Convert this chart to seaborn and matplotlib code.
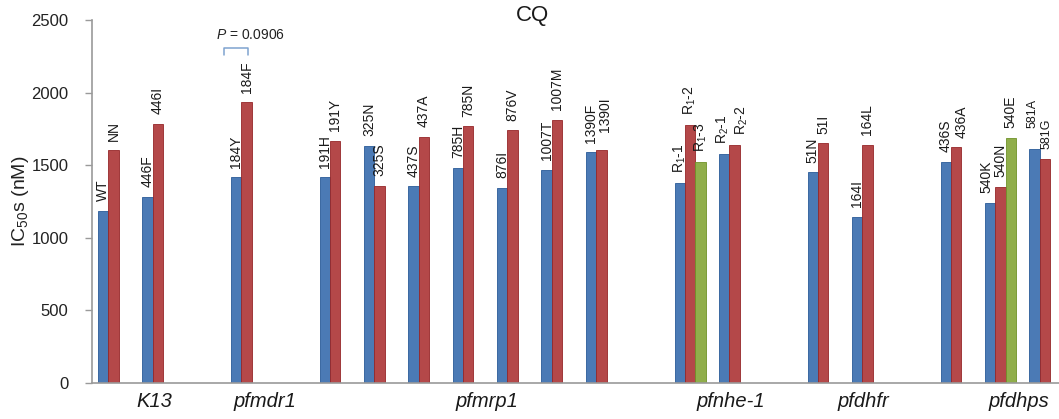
import numpy as np
import pandas as pd
import matplotlib
matplotlib.use("Agg")
import matplotlib.pyplot as plt
import seaborn as sns
from matplotlib.transforms import blended_transform_factory

# ---------------- data ----------------
loci = ["WT/NN", "446", "184", "191", "325", "437", "785", "876", "1007", "1390",
        "R1", "R2", "51", "164", "436", "540", "581"]
genes = ["K13", "K13", "pfmdr1", "pfmrp1", "pfmrp1", "pfmrp1", "pfmrp1", "pfmrp1",
         "pfmrp1", "pfmrp1", "pfnhe-1", "pfnhe-1", "pfdhfr", "pfdhfr",
         "pfdhps", "pfdhps", "pfdhps"]
gene_names = ["K13", "pfmdr1", "pfmrp1", "pfnhe-1", "pfdhfr", "pfdhps"]

allele1_values = [1188, 1283, 1416, 1416, 1634, 1354, 1480, 1345, 1469, 1588,
                  1377, 1577, 1450, 1143, 1524, 1243, 1614]
allele2_values = [1602, 1786, 1933, 1669, 1359, 1697, 1768, 1740, 1811, 1607,
                  1777, 1641, 1650, 1639, 1623, 1352, 1543]
allele3_values = [np.nan, np.nan, np.nan, np.nan, np.nan, np.nan, np.nan, np.nan,
                  np.nan, np.nan, 1522, np.nan, np.nan, np.nan, np.nan, 1688, np.nan]

allele1_labels = ["WT", "446F", "184Y", "191H", "325N", "437S", "785H", "876I", "1007T",
                  "1390F", "R$_1$-1", "R$_2$-1", "51N", "164I", "436S", "540K", "581A"]
allele2_labels = ["NN", "446I", "184F", "191Y", "325S", "437A", "785N", "876V", "1007M",
                  "1390I", "R$_1$-2", "R$_2$-2", "51I", "164L", "436A", "540N", "581G"]
allele3_labels = ["", "", "", "", "", "", "", "", "", "", "R$_1$-3", "", "", "", "", "540E", ""]

p_text = "$P$ = 0.0906"
p_locus = "184"
title = "CQ"
ylabel = "IC$_{50}$s (nM)"
yticks = [0, 500, 1000, 1500, 2000, 2500]

# ---------------- build long table ----------------
rows = []
for k, (vals, labs) in enumerate([(allele1_values, allele1_labels),
                                  (allele2_values, allele2_labels),
                                  (allele3_values, allele3_labels)]):
    for loc, v, lab in zip(loci, vals, labs):
        if not np.isnan(v):
            rows.append({"locus": loc, "allele": str(k + 1), "ic50": v, "label": lab})
df = pd.DataFrame(rows)

# category order with a spacer slot between gene groups
order = []
gap_n = 0
for i, loc in enumerate(loci):
    if i > 0 and genes[i] != genes[i - 1]:
        gap_n += 1
        order.append(f"_gap{gap_n}")
    order.append(loc)

# ---------------- style ----------------
sns.set_theme(style="white")
plt.rcParams["font.family"] = ["Liberation Sans", "DejaVu Sans"]
plt.rcParams["mathtext.fontset"] = "custom"
plt.rcParams["mathtext.rm"] = "Liberation Sans"
plt.rcParams["mathtext.it"] = "Liberation Sans:italic"
plt.rcParams["mathtext.bf"] = "Liberation Sans:bold"

colors = ["#3a78c6", "#c63638", "#96bf3a"]
edges = ["#2a5a98", "#962628", "#6f9228"]

# small label nudges (points) / sizes to avoid collisions, as in the reference
nudge = {"R$_2$-2": (5, 0), "436A": (4, 0), "1390I": (3, 6), "581A": (-1.5, 8),
         "581G": (1.5, 0), "540K": (-3, 0), "R$_2$-1": (-1, 0)}
label_size = {"581A": 9, "581G": 9}

fig = plt.figure(figsize=(10.59, 4.19), dpi=100)
ax = fig.add_axes([92 / 1059, 36 / 419, 967 / 1059, 363 / 419])

sns.barplot(data=df, x="locus", y="ic50", hue="allele", order=order,
            hue_order=["1", "2", "3"], palette=colors, width=0.7, errorbar=None,
            legend=False, ax=ax, linewidth=0.6)

step = 0.7 / 3
label_lookup = {(r.locus, int(r.allele)): r.label for r in df.itertuples()}
for p in ax.patches:
    h = p.get_height()
    if not np.isfinite(h) or h <= 0:
        continue
    xc = p.get_x() + p.get_width() / 2
    slot = int(round(xc))
    k = int(round((xc - slot) / step)) + 2
    p.set_edgecolor(edges[k - 1])
    lab = label_lookup.get((order[slot], k), "")
    if lab:
        dx, dy = nudge.get(lab, (0, 0))
        ax.annotate(lab, (xc, h), xytext=(dx, 7 + dy), textcoords="offset points",
                    rotation=90, ha="center", va="bottom",
                    fontsize=label_size.get(lab, 10), color="#1a1a1a")

ax.set_xlim(-0.485, 21.32)
ax.set_ylim(0, 2500)
ax.set_yticks(yticks)
ax.set_yticklabels([str(t) for t in yticks], fontsize=12, color="#222222")
ax.set_xticks([])
ax.set_xlabel("")
ax.set_ylabel(ylabel, fontsize=14, color="#222222")
ax.yaxis.set_label_coords(-0.063, 0.5)
ax.tick_params(axis="y", left=True, length=5, width=1, color="#9a9a9a", pad=12)
for s in ["top", "right"]:
    ax.spines[s].set_visible(False)
for s in ["left", "bottom"]:
    ax.spines[s].set_color("#9a9a9a")
    ax.spines[s].set_linewidth(1.2)

# gene labels below the axis
trans = blended_transform_factory(ax.transData, ax.transAxes)
for g in gene_names:
    idx = [order.index(l) for l, gg in zip(loci, genes) if gg == g]
    ax.text(np.mean(idx) + 0.42, -0.052, g, transform=trans, ha="center", va="center",
            fontsize=14.5, style="italic", color="#1a1a1a")

# P-value bracket
pi = order.index(p_locus)
bx0, bx1 = pi - 0.51, pi + 0.03
ax.plot([bx0, bx0, bx1, bx1], [2262, 2310, 2310, 2262], color="#7fa3d0", lw=1.1,
        clip_on=False)
ax.text(pi + 0.08, 2400, p_text, ha="center", va="center", fontsize=10, color="#222222")

fig.text(0.503, 0.962, title, ha="center", va="center", fontsize=16, color="#1a1a1a")

fig.savefig("out.png", dpi=100)
